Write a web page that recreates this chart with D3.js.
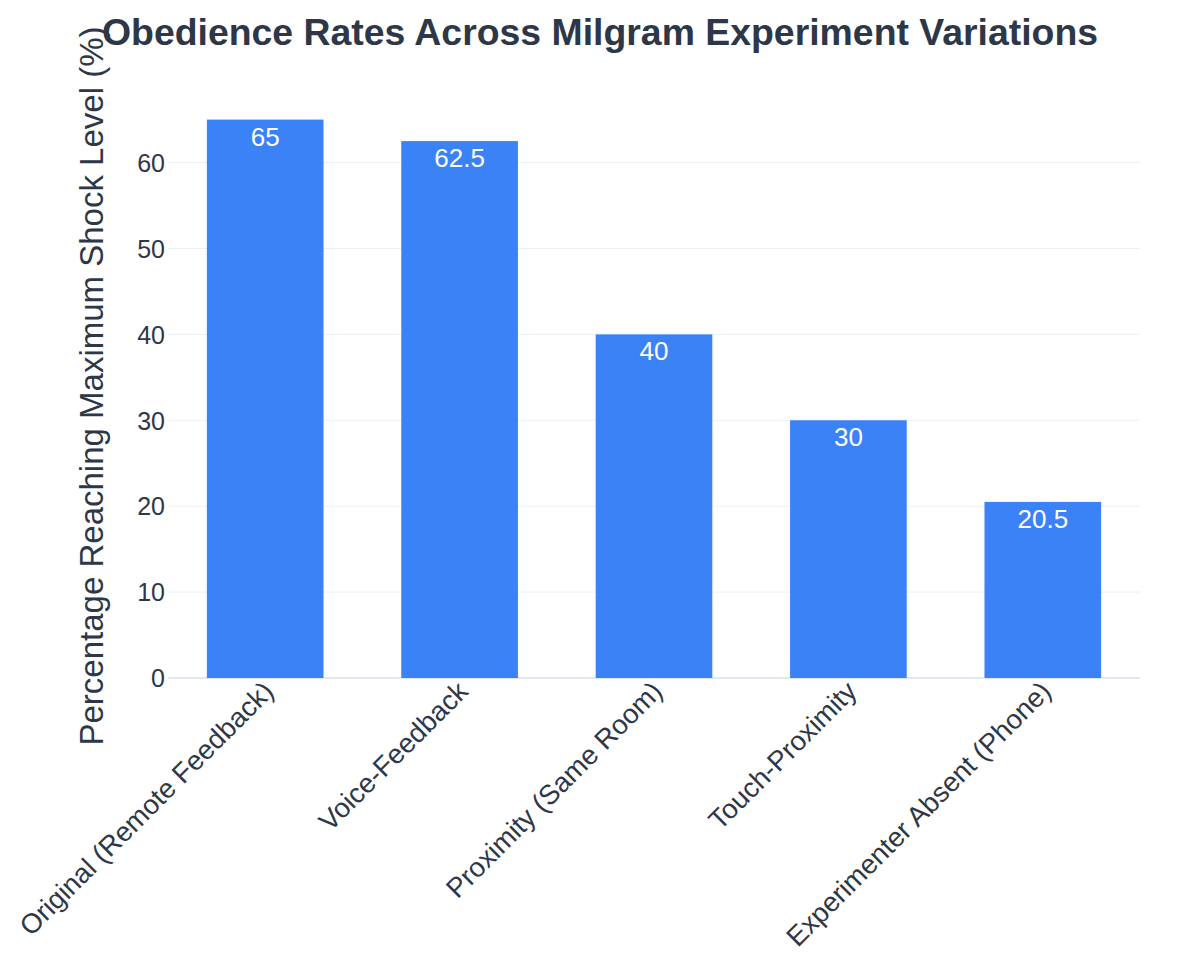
<!DOCTYPE html>
<html>
<head>
<meta charset="utf-8">
<script src="https://cdn.jsdelivr.net/npm/d3@7"></script>
<style>
  body { margin: 0; background: #fff; }
  text { font-family: "Liberation Sans", Arial, sans-serif; }
</style>
</head>
<body>
<div id="chart"></div>
<script>
const categories = [
  "Original (Remote Feedback)",
  "Voice-Feedback",
  "Proximity (Same Room)",
  "Touch-Proximity",
  "Experimenter Absent (Phone)"
];
const values = [65, 62.5, 40, 30, 20.5];
const yTicks = [0, 10, 20, 30, 40, 50, 60];

const W = 1200, H = 975;
const margin = { top: 90, right: 60, bottom: 297, left: 168 };
const textColor = "#2d3748";

const svg = d3.select("#chart").append("svg")
  .attr("width", W).attr("height", H);

const x = d3.scaleBand()
  .domain(categories)
  .range([margin.left, W - margin.right])
  .paddingInner(0.4)
  .paddingOuter(0.2);

const y = d3.scaleLinear()
  .domain([0, d3.max(values) * 1.053])
  .range([H - margin.bottom, margin.top]);

// grid
svg.append("g")
  .selectAll("line")
  .data(yTicks.filter(d => d > 0))
  .join("line")
  .attr("x1", margin.left).attr("x2", W - margin.right)
  .attr("y1", d => y(d)).attr("y2", d => y(d))
  .attr("stroke", "#eceff3").attr("stroke-width", 1);

svg.append("line")
  .attr("x1", margin.left).attr("x2", W - margin.right)
  .attr("y1", y(0)).attr("y2", y(0))
  .attr("stroke", "#e2e8f0").attr("stroke-width", 2);

// y tick labels
svg.append("g")
  .selectAll("text")
  .data(yTicks)
  .join("text")
  .attr("x", margin.left - 3)
  .attr("y", d => y(d))
  .attr("dy", "0.37em")
  .attr("text-anchor", "end")
  .attr("font-size", 25)
  .attr("fill", textColor)
  .text(d => d);

// bars
svg.append("g")
  .selectAll("rect")
  .data(values)
  .join("rect")
  .attr("x", (d, i) => x(categories[i]))
  .attr("y", d => y(d))
  .attr("width", x.bandwidth())
  .attr("height", d => y(0) - y(d))
  .attr("fill", "#3b82f6");

// value labels
svg.append("g")
  .selectAll("text")
  .data(values)
  .join("text")
  .attr("x", (d, i) => x(categories[i]) + x.bandwidth() / 2)
  .attr("y", d => y(d) + 26)
  .attr("text-anchor", "middle")
  .attr("font-size", 26)
  .attr("fill", "#fff")
  .text(d => d);

// x labels
svg.append("g")
  .selectAll("text")
  .data(categories)
  .join("text")
  .attr("transform", d => `translate(${x(d) + x.bandwidth() / 2 + 10},${y(0) + 15}) rotate(-45)`)
  .attr("text-anchor", "end")
  .attr("font-size", 27.5)
  .attr("fill", textColor)
  .text(d => d);

// y axis title
svg.append("text")
  .attr("transform", `translate(103,386) rotate(-90)`)
  .attr("text-anchor", "middle")
  .attr("font-size", 33)
  .attr("fill", textColor)
  .text("Percentage Reaching Maximum Shock Level (%)");

// title
svg.append("text")
  .attr("x", W / 2)
  .attr("y", 45)
  .attr("text-anchor", "middle")
  .attr("font-size", 37.4)
  .attr("font-weight", "bold")
  .attr("fill", textColor)
  .text("Obedience Rates Across Milgram Experiment Variations");
</script>
</body>
</html>
